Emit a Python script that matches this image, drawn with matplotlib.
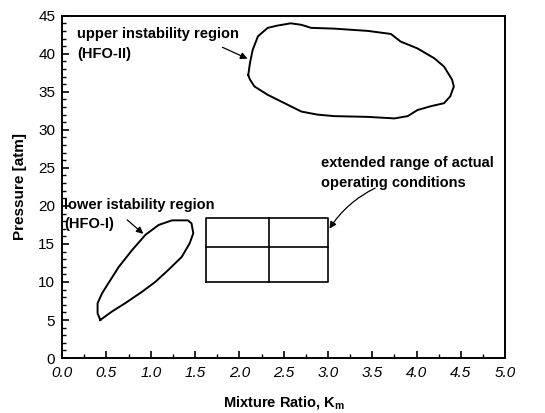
import matplotlib
matplotlib.use('Agg')
import matplotlib.pyplot as plt
from matplotlib.ticker import MultipleLocator

plt.rcParams['font.family'] = ['Liberation Sans', 'DejaVu Sans']
plt.rcParams['mathtext.fontset'] = 'custom'
plt.rcParams['mathtext.bf'] = 'Liberation Sans:bold'
plt.rcParams['mathtext.rm'] = 'Liberation Sans'

# upper instability region (HFO-II) outline
upper_x = [2.10, 2.12, 2.15, 2.21, 2.32, 2.43, 2.58, 2.70, 2.81, 3.07, 3.45, 3.71,
           3.82, 4.01, 4.20, 4.31, 4.40, 4.42, 4.38, 4.31, 4.16, 4.01, 3.90, 3.75,
           3.45, 3.07, 2.88, 2.70, 2.51, 2.32, 2.17, 2.12, 2.10]
upper_y = [37.2, 38.8, 40.5, 42.3, 43.4, 43.7, 44.0, 43.8, 43.4, 43.3, 43.0, 42.6,
           41.6, 40.7, 39.4, 38.3, 36.6, 35.7, 34.4, 33.5, 33.1, 32.6, 31.8, 31.5,
           31.7, 31.8, 32.0, 32.4, 33.5, 34.6, 35.7, 36.6, 37.2]

# lower instability region (HFO-I) outline
lower_x = [0.43, 0.40, 0.40, 0.45, 0.52, 0.64, 0.79, 0.94, 1.09, 1.24, 1.42, 1.46,
           1.48, 1.44, 1.35, 1.20, 1.05, 0.90, 0.71, 0.56, 0.43]
lower_y = [5.0, 5.9, 7.2, 8.5, 9.8, 12.0, 14.2, 16.2, 17.5, 18.1, 18.1, 17.7,
           16.4, 15.1, 13.3, 11.6, 10.0, 8.7, 7.2, 6.1, 5.0]

# operating range box
box_x = [1.62, 2.33, 3.0]
box_y = [10.0, 14.6, 18.4]

fig = plt.figure(figsize=(5.45, 4.13), dpi=100)
ax = fig.add_axes([0.114, 0.133, 0.813, 0.829])

ax.plot(upper_x, upper_y, color='black', lw=1.4)
ax.plot(lower_x, lower_y, color='black', lw=1.4)

# grid box
ax.plot([box_x[0], box_x[2], box_x[2], box_x[0], box_x[0]],
        [box_y[0], box_y[0], box_y[2], box_y[2], box_y[0]], color='black', lw=1.2)
ax.plot([box_x[0], box_x[2]], [box_y[1], box_y[1]], color='black', lw=1.2)
ax.plot([box_x[1], box_x[1]], [box_y[0], box_y[2]], color='black', lw=1.2)

arrow = dict(arrowstyle='-|>', color='black', lw=0.9, mutation_scale=10)
ax.text(0.17, 41.3, 'upper instability region\n(HFO-II)', fontsize=10.5,
        fontweight='bold', va='center', linespacing=1.5)
ax.annotate('', xy=(2.12, 39.2), xytext=(1.78, 41.0), arrowprops=arrow)

ax.text(0.02, 18.9, 'lower istability region\n(HFO-I)', fontsize=10.5,
        fontweight='bold', va='center', linespacing=1.5)
ax.annotate('', xy=(0.94, 16.1), xytext=(0.71, 18.4), arrowprops=arrow)

ax.text(2.92, 24.3, 'extended range of actual\noperating conditions', fontsize=10.5,
        fontweight='bold', va='center', linespacing=1.5)
ax.annotate('', xy=(3.0, 16.7), xytext=(3.56, 22.5),
            arrowprops=dict(arrow, connectionstyle='arc3,rad=0.15'))

ax.set_xlim(0, 5)
ax.set_ylim(0, 45)
ax.xaxis.set_major_locator(MultipleLocator(0.5))
ax.xaxis.set_minor_locator(MultipleLocator(0.25))
ax.yaxis.set_major_locator(MultipleLocator(5))
ax.yaxis.set_minor_locator(MultipleLocator(1))
ax.xaxis.set_major_formatter(plt.FormatStrFormatter('%.1f'))
ax.tick_params(which='both', direction='in', top=False, right=False, labelsize=11)
ax.tick_params(which='major', length=5, width=1.2)
ax.tick_params(which='minor', length=3, width=1)
ax.tick_params(axis='x', pad=6)
ax.tick_params(axis='y', pad=5)
for lab in ax.get_xticklabels():
    lab.set_fontstyle('italic')
for s in ax.spines.values():
    s.set_linewidth(1.4)

ax.set_xlabel(r'Mixture Ratio, K$_{\mathbf{m}}$', fontsize=10.5, fontweight='bold', labelpad=10)
ax.set_ylabel('Pressure [atm]', fontsize=11, fontweight='bold', labelpad=8)

fig.savefig('out.png', dpi=100)
